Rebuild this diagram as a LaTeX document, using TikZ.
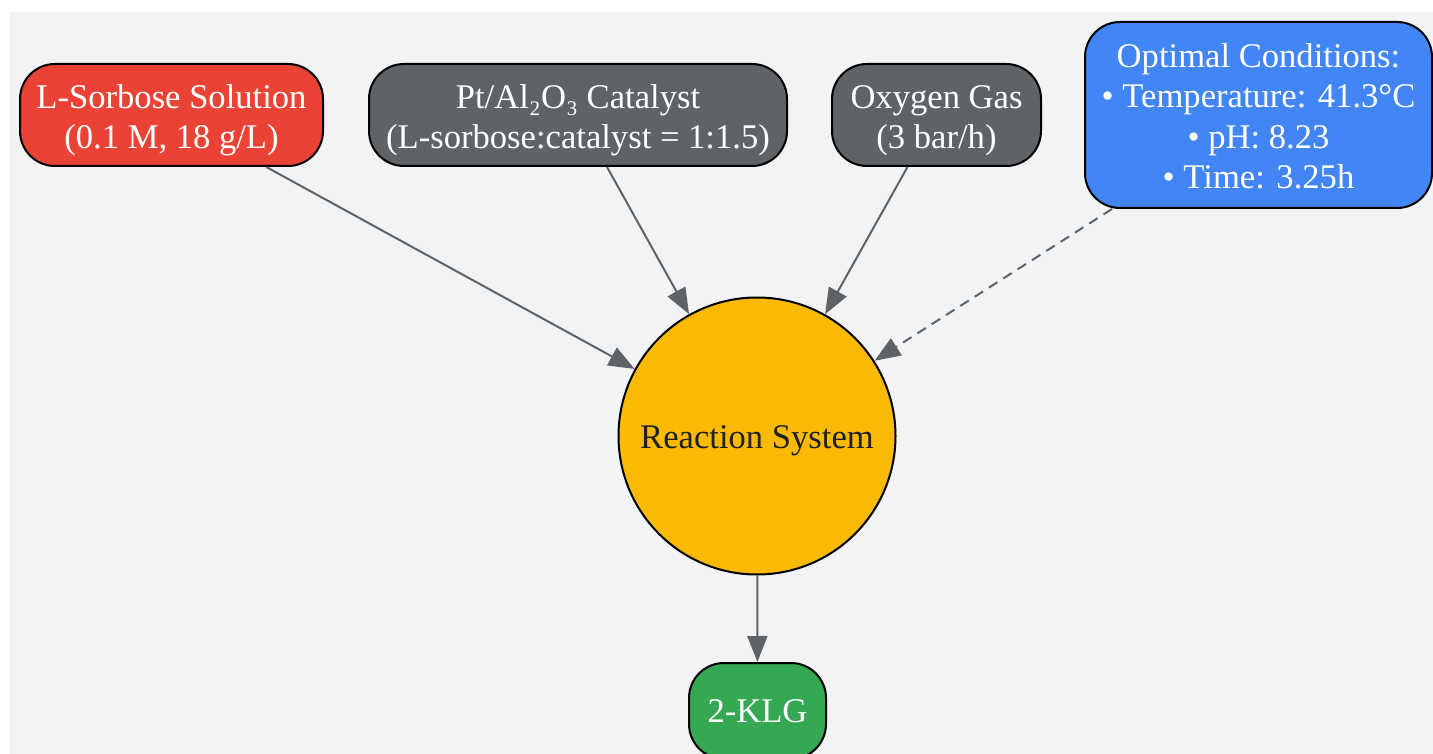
\documentclass[tikz,border=0pt]{standalone}
\usepackage{fontspec}
\setmainfont{Liberation Serif}
\usetikzlibrary{arrows.meta}
\definecolor{bgc}{HTML}{F1F3F4}
\definecolor{redc}{HTML}{EA4335}
\definecolor{grayc}{HTML}{5F6368}
\definecolor{bluec}{HTML}{4285F4}
\definecolor{yellowc}{HTML}{FABA04}
\definecolor{greenc}{HTML}{34A853}
\definecolor{darkc}{HTML}{202124}
\newcommand\mylines[2][-5.5pt]{\raisebox{#1}[\height][\depth]{\begin{tabular}{@{}c@{}}#2\end{tabular}}}
\tikzset{
  box/.style={draw=black, line width=2pt, rounded corners=35pt, align=center, text=white,
    font=\fontsize{34.6}{40.5}\selectfont, inner sep=0pt},
  edge/.style={draw=grayc, line width=2pt, -{Triangle[length=26pt,width=20pt]}},
}
\begin{document}
\begin{tikzpicture}[x=1pt,y=-1pt]
\useasboundingbox (0,0) rectangle (1433,754);
\clip (0,0) rectangle (1433,754);
\fill[bgc] (10,12) rectangle (1433,760);
\node[box, fill=redc, minimum width=303pt, minimum height=102pt] (sol) at (171.5,115) {\mylines{L-Sorbose Solution\\(0.1 M, 18 g/L)}};
\node[box, fill=grayc, minimum width=418pt, minimum height=102pt] (cat) at (578,115) {\mylines{Pt/Al₂O₃ Catalyst\\(L-sorbose:catalyst = 1:1.5)}};
\node[box, fill=grayc, minimum width=209pt, minimum height=102pt] (oxy) at (936.5,115) {\mylines{Oxygen Gas\\(3 bar/h)}};
\node[box, fill=bluec, minimum width=347pt, minimum height=186pt] (opt) at (1258.5,115) {\mylines[-5pt]{Optimal Conditions:\\• Temperature: 41.3°C\\• pH: 8.23\\• Time: 3.25h}};
\node[circle, draw=black, line width=2pt, fill=yellowc, minimum size=277pt, inner sep=0pt, text=darkc,
  font=\fontsize{34.6}{40.5}\selectfont] (rs) at (757,436) {\mylines[-4.5pt]{Reaction System}};
\node[box, fill=greenc, minimum width=137pt, minimum height=96pt] (klg) at (757.5,711) {\mylines[-3.5pt]{2-KLG}};
\draw[edge] (sol) -- (rs);
\draw[edge] (cat) -- (rs);
\draw[edge] (oxy) -- (rs);
\draw[edge, dash pattern=on 10pt off 7pt] (opt) -- (rs);
\draw[edge] (rs) -- (klg);
\end{tikzpicture}
\end{document}
